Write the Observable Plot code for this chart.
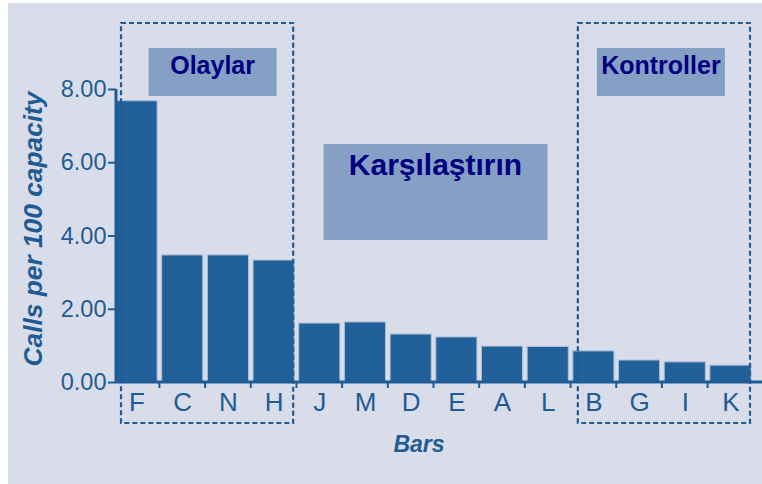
<!DOCTYPE html>
<html><head><meta charset="utf-8">
<script src="https://cdn.jsdelivr.net/npm/d3@7"></script>
<script src="https://cdn.jsdelivr.net/npm/@observablehq/plot@0.6"></script>
<style>body{margin:0;background:#fff}#chart{width:762px;height:484px}</style>
</head><body><div id="chart"></div>
<script>
// ---- data ----
const bars = ["F","C","N","H","J","M","D","E","A","L","B","G","I","K"];
const values = [7.68,3.47,3.47,3.33,1.61,1.64,1.31,1.23,0.98,0.97,0.85,0.60,0.55,0.46];
const yTicks = [0,2,4,6,8];
const yTitle = "Calls per 100 capacity";
const xTitle = "Bars";
const groupNames = ["Olaylar","Karşılaştırın","Kontroller"];
const groupFirst = ["F","J","B"];
const groupLast = ["H","L","K"];
const groupBoxed = [true,false,true];

const data = bars.map((b,i)=>({bar:b, value:values[i]}));
const FONT = "'Liberation Sans', Arial, Helvetica, sans-serif";
const BLUE = "#1f5b95";
const labelShift = [5.5, 0, -3];

const plot = Plot.plot({
  width: 762, height: 484,
  marginLeft: 116, marginRight: 11, marginTop: 89, marginBottom: 102,
  style: {background: "transparent", fontFamily: FONT, color: BLUE, overflow: "visible"},
  x: {domain: bars, paddingInner: 0.1, paddingOuter: 0, round: false, label: null},
  y: {domain: [0, 8], label: null},
  marks: [
    Plot.barY(data, {x: "bar", y: "value", fill: "#22609a", stroke: "#aebfd8", strokeWidth: 1}),
    Plot.axisY({ticks: yTicks, tickSize: 8, tickPadding: 2, tickFormat: d => d.toFixed(2), fontSize: 23.5, stroke: BLUE, strokeWidth: 2, fill: BLUE, label: null}),
    Plot.axisX({tickSize: 0, tickPadding: 10, fontSize: 26, fill: BLUE, label: null})
  ]
});

const svg = d3.select(plot);
const x = plot.scale("x"), y = plot.scale("y");
const bw = x.bandwidth, step = x.step;
const y0 = y.apply(0), y8 = y.apply(8);
const xLeft = x.apply(bars[0]);

// background panel
svg.insert("rect", ":first-child").attr("x", 8).attr("y", 3).attr("width", 754).attr("height", 481).attr("fill", "#d8dde9");

// axis lines
svg.append("line").attr("x1", xLeft).attr("x2", 762).attr("y1", y0).attr("y2", y0).attr("stroke", BLUE).attr("stroke-width", 3);
svg.append("line").attr("x1", xLeft).attr("x2", xLeft).attr("y1", y8).attr("y2", y0 + 1).attr("stroke", BLUE).attr("stroke-width", 3);
// boundary ticks between bars
bars.slice(1).forEach(b => {
  const bx = x.apply(b) - (step - bw) / 2;
  svg.append("line").attr("x1", bx).attr("x2", bx).attr("y1", y0).attr("y2", y0 + 6).attr("stroke", BLUE).attr("stroke-width", 2);
});

// dashed group boxes and labels
groupNames.forEach((name, i) => {
  const gx1 = x.apply(groupFirst[i]), gx2 = x.apply(groupLast[i]) + bw;
  const cx = (gx1 + gx2) / 2 + 2 + labelShift[i];
  if (groupBoxed[i]) {
    svg.append("rect").attr("x", gx1 + 5).attr("y", 23).attr("width", gx2 - gx1 - 6).attr("height", 400)
      .attr("fill", "none").attr("stroke", BLUE).attr("stroke-width", 2.2).attr("stroke-dasharray", "5,3");
  }
  const big = !groupBoxed[i];
  const w = big ? 224 : 128, h = big ? 96 : 48, top = big ? 144 : 48;
  svg.append("rect").attr("x", cx - w / 2).attr("y", top).attr("width", w).attr("height", h).attr("fill", "#86a0c5");
  svg.append("text").attr("x", cx).attr("y", big ? top + 31 : top + 26).attr("text-anchor", "middle")
    .attr("font-family", FONT).attr("font-weight", "bold").attr("font-size", big ? 30 : 25).attr("fill", "#000080").text(name);
});

// axis titles
svg.append("text").attr("transform", "translate(42,229) rotate(-90)").attr("text-anchor", "middle")
  .attr("font-family", FONT).attr("font-weight", "bold").attr("font-style", "italic").attr("font-size", 25)
  .attr("fill", BLUE).attr("textLength", 275).attr("lengthAdjust", "spacingAndGlyphs").text(yTitle);
svg.append("text").attr("x", 419).attr("y", 452).attr("text-anchor", "middle")
  .attr("font-family", FONT).attr("font-weight", "bold").attr("font-style", "italic").attr("font-size", 23)
  .attr("fill", BLUE).text(xTitle);

document.getElementById("chart").appendChild(plot);
</script>
</body></html>
